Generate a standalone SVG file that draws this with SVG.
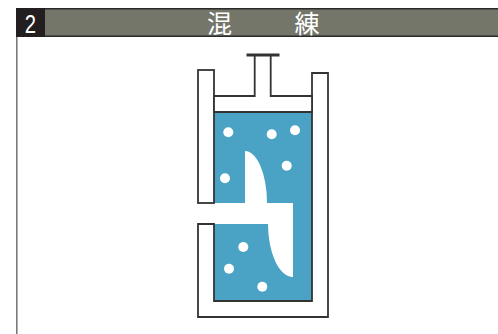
<svg xmlns="http://www.w3.org/2000/svg" width="498" height="334" viewBox="0 0 498 334">
  <style>
    .wall { fill: #ffffff; stroke: #333333; stroke-width: 1.8; stroke-linejoin: miter; }
    .dot { fill: #ffffff; }
    .title { fill: #ffffff; font-family: "Noto Sans CJK JP", "Noto Sans CJK SC", sans-serif; font-size: 25px; }
  </style>
  <rect width="498" height="334" fill="#ffffff"/>

  <!-- header bar -->
  <g id="header">
    <rect x="16" y="8" width="482" height="29" fill="#74766a"/>
    <line x1="16" y1="8.7" x2="498" y2="8.7" stroke="#2a2a2a" stroke-width="1.4"/>
    <line x1="16" y1="36.3" x2="498" y2="36.3" stroke="#2a2a2a" stroke-width="1.4"/>
    <rect x="16" y="8" width="29" height="29" fill="#231f20"/>
    <text x="30.5" y="33.3" transform="translate(30.5 0) scale(0.78 1) translate(-30.5 0)" text-anchor="middle" fill="#ffffff" font-family="Liberation Sans, Arial, sans-serif" font-size="26">2</text>
    <text class="title" x="219.5" y="32.5" text-anchor="middle">混</text>
    <text class="title" x="307" y="32.5" text-anchor="middle">練</text>
  </g>
  <line x1="16.8" y1="37" x2="16.8" y2="334" stroke="#7a7a7a" stroke-width="1.6"/>

  <!-- mixing vessel -->
  <g id="mixer">
    <rect x="214" y="112" width="98" height="189" fill="#4aa3c4"/>
    <!-- blade -->
    <path d="M245,151 A22,52 0 0 1 267,203 L293,203 L293,277 A25,53 0 0 1 268,224 L214,224 L214,203 L245,203 Z" fill="#ffffff"/>
    <!-- walls -->
    <rect class="wall" x="198" y="70" width="16" height="133"/>
    <path class="wall" d="M198,224 L214,224 L214,301 L312,301 L312,73 L328,73 L328,317 L198,317 Z"/>
    <!-- piston -->
    <path class="wall" d="M214,112 L214,96 L254.7,96 L254.7,55 L270.7,55 L270.7,96 L312,96 L312,112 Z"/>
    <line x1="246.5" y1="55" x2="279.5" y2="55" stroke="#333333" stroke-width="3"/>
    <!-- particles -->
    <circle class="dot" cx="228.3" cy="132.3" r="5"/>
    <circle class="dot" cx="271.7" cy="134.3" r="5"/>
    <circle class="dot" cx="295" cy="130.3" r="5"/>
    <circle class="dot" cx="286.7" cy="165.7" r="5"/>
    <circle class="dot" cx="225" cy="178.3" r="5"/>
    <circle class="dot" cx="243.3" cy="247" r="5"/>
    <circle class="dot" cx="229" cy="268.7" r="5"/>
    <circle class="dot" cx="262.3" cy="286.7" r="5"/>
  </g>
</svg>
